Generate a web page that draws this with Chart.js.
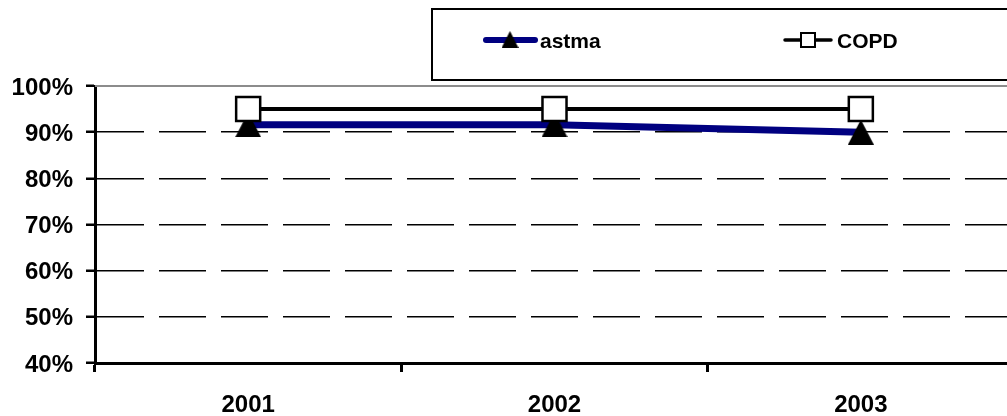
<!DOCTYPE html>
<html>
<head>
<meta charset="utf-8">
<script src="https://cdn.jsdelivr.net/npm/chart.js@4.4.0/dist/chart.umd.min.js"></script>
<style>
  html, body { margin: 0; padding: 0; background: #fff; overflow: hidden; }
  #wrap { position: relative; width: 1014px; height: 416px; }
</style>
</head>
<body>
<div id="wrap"><canvas id="chart"></canvas></div>
<script>
// yearly shares per diagnosis group (percent)
const years = ['2001', '2002', '2003'];
const astma = [91.6, 91.6, 90.0];
const copd = [95.0, 95.0, 95.0];
const seriesNames = ['astma', 'COPD'];
const yTicks = [40, 50, 60, 70, 80, 90, 100];

const FONT = "'Liberation Sans', Arial, sans-serif";

// filled triangle centred in its own box, used as point marker
function triangleMarker(w, h) {
    const c = document.createElement('canvas');
    c.width = w;
    c.height = h;
    const g = c.getContext('2d');
    g.fillStyle = '#000';
    g.beginPath();
    g.moveTo(w / 2, 0);
    g.lineTo(w, h);
    g.lineTo(0, h);
    g.closePath();
    g.fill();
    return c;
}

// gray frame line along the top of the plot
const topLine = {
    id: 'topLine',
    beforeDatasetsDraw(chart) {
        const { ctx, chartArea } = chart;
        ctx.save();
        ctx.strokeStyle = '#8c8c8c';
        ctx.lineWidth = 2;
        ctx.beginPath();
        ctx.moveTo(chartArea.left, chartArea.top);
        ctx.lineTo(chart.width, chartArea.top);
        ctx.stroke();
        ctx.restore();
    }
};

// boxed legend: line sample with marker in the middle, then the label
const boxLegend = {
    id: 'boxLegend',
    afterDraw(chart) {
        const ctx = chart.ctx;
        ctx.save();
        ctx.strokeStyle = '#000';
        ctx.lineWidth = 2;
        ctx.strokeRect(432, 9, 700, 71);

        const y = 40;
        ctx.font = 'bold 21px ' + FONT;
        ctx.textBaseline = 'middle';
        ctx.fillStyle = '#000';

        // astma
        ctx.strokeStyle = '#000080';
        ctx.lineWidth = 6;
        ctx.lineCap = 'round';
        ctx.beginPath();
        ctx.moveTo(486, y);
        ctx.lineTo(535, y);
        ctx.stroke();
        ctx.drawImage(triangleMarker(17, 17), 510 - 8.5, y - 9);
        ctx.fillText(chart.data.datasets[0].label, 540, y + 2);

        // COPD
        ctx.strokeStyle = '#000';
        ctx.lineWidth = 3.5;
        ctx.beginPath();
        ctx.moveTo(785, y);
        ctx.lineTo(831, y);
        ctx.stroke();
        ctx.fillStyle = '#fff';
        ctx.lineWidth = 2;
        ctx.fillRect(801, y - 7, 14, 14);
        ctx.strokeRect(801, y - 7, 14, 14);
        ctx.fillStyle = '#000';
        ctx.fillText(chart.data.datasets[1].label, 837, y + 2);
        ctx.restore();
    }
};

const ctx = document.getElementById('chart').getContext('2d');
new Chart(ctx, {
    type: 'line',
    data: {
        labels: years,
        datasets: [{
            label: seriesNames[0],
            data: astma,
            borderColor: '#000080',
            borderWidth: 7,
            pointStyle: triangleMarker(26, 25),
            pointRadius: 13,
            order: 1
        }, {
            label: seriesNames[1],
            data: copd,
            borderColor: '#000',
            borderWidth: 4,
            pointStyle: 'rect',
            pointRadius: 17,
            pointBackgroundColor: '#fff',
            pointBorderColor: '#000',
            pointBorderWidth: 2.5,
            order: 0
        }]
    },
    options: {
        responsive: true,
        maintainAspectRatio: false,
        animation: false,
        clip: false,
        layout: { autoPadding: false, padding: { top: 86, left: 0, right: 0, bottom: 0 } },
        plugins: {
            legend: { display: false },
            tooltip: { enabled: false }
        },
        scales: {
            x: {
                offset: true,
                grid: {
                    offset: true,
                    drawOnChartArea: false,
                    tickLength: 9,
                    tickWidth: 3,
                    tickColor: '#000'
                },
                border: { color: '#000', width: 3 },
                ticks: {
                    color: '#000',
                    padding: 19,
                    font: { family: FONT, size: 24, weight: 'bold' }
                },
                afterFit(scale) { scale.height = 53; }
            },
            y: {
                min: yTicks[0],
                max: yTicks[yTicks.length - 1],
                afterBuildTicks(scale) {
                    scale.ticks = yTicks.map(v => ({ value: v }));
                },
                grid: {
                    color: c => (c.tick && c.tick.value === 100 ? 'rgba(0,0,0,0)' : '#000'),
                    lineWidth: 1.5,
                    tickLength: 9,
                    tickWidth: 2.5,
                    tickColor: '#000',
                    tickBorderDash: []
                },
                border: { color: '#000', width: 3, dash: [47, 15] },
                ticks: {
                    color: '#000',
                    padding: 13,
                    labelOffset: 2,
                    font: { family: FONT, size: 24, weight: 'bold' },
                    callback: v => v + '%'
                },
                afterFit(scale) { scale.width = 95; }
            }
        }
    },
    plugins: [topLine, boxLegend]
});
</script>
</body>
</html>
